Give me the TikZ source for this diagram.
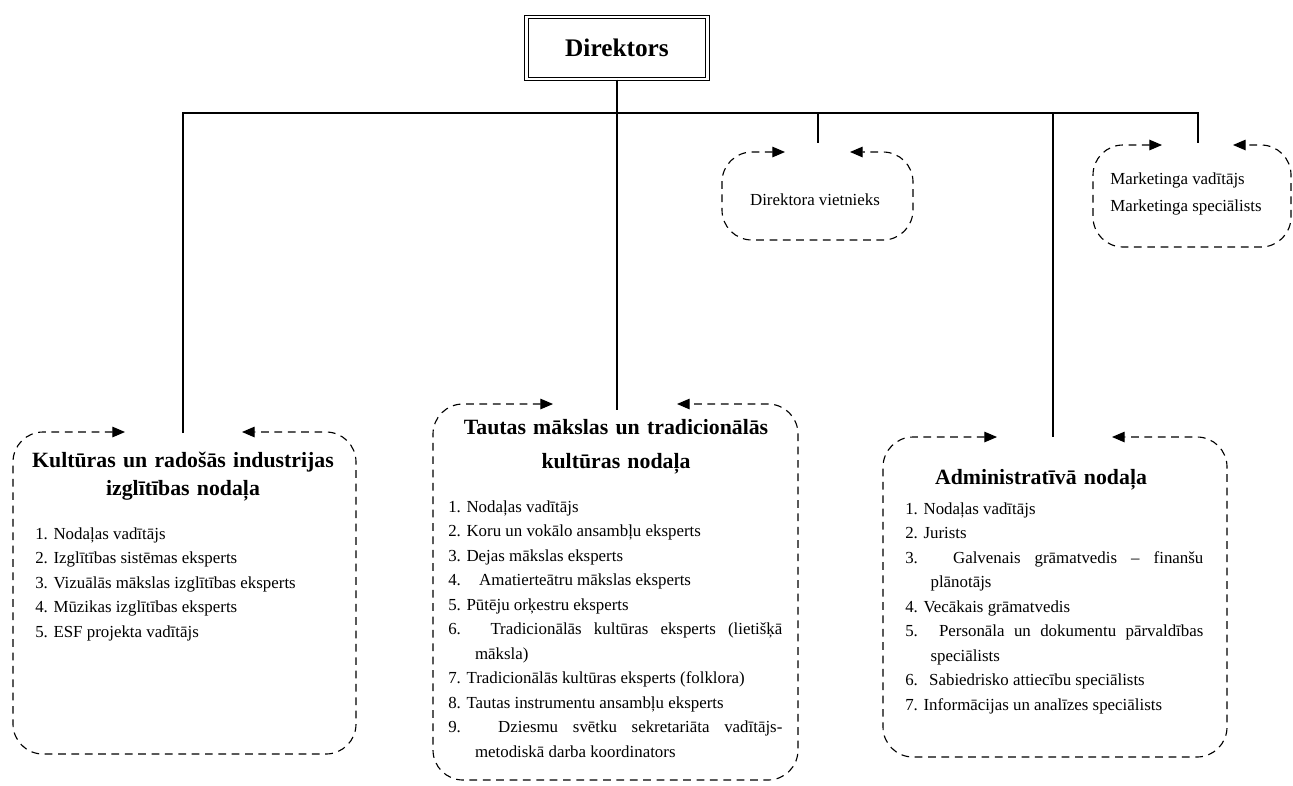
\documentclass[tikz,border=0pt]{standalone}
\usepackage{fontspec}
\setmainfont{Liberation Serif}
\usetikzlibrary{arrows.meta}
\begin{document}
\begin{tikzpicture}[x=0.025cm,y=-0.025cm]
	\tikzstyle{every node}+=[inner sep=0pt]
	\tikzstyle{deptbox}=[black,line width=0.8pt,dash pattern=on 5.5pt off 4pt,rounded corners=0.75cm,{Triangle[length=9pt,width=7.5pt]}-{Triangle[length=9pt,width=7.5pt]}]
	\tikzstyle{tree}=[black,line width=1pt]
	\tikzstyle{head}=[font=\fontsize{15.5}{24.2}\selectfont\bfseries,align=center,anchor=north]
	\tikzstyle{items}=[font=\fontsize{12}{17.4}\selectfont,align=justify,anchor=north west]
	\useasboundingbox (0,0) rectangle (1293,785);
	\node [draw,line width=0.7pt,double,double distance=1.6pt,minimum width=4.525cm,minimum height=1.55cm,font=\fontsize{18}{20}\selectfont\bfseries] (direktors) at (617,48) {Direktors};
	\coordinate (bus) at (617,113);
	\coordinate (kult) at (183,433);
	\coordinate (tauta) at (617,410);
	\coordinate (vietn) at (818,143);
	\coordinate (admin) at (1053,437);
	\coordinate (mark) at (1198,143);
	\draw [tree] (direktors) -- (bus);
	\draw [tree] (kult) |- (bus) -| (mark);
	\draw [tree] (bus -| tauta) -- (tauta);
	\draw [tree] (bus -| vietn) -- (vietn);
	\draw [tree] (bus -| admin) -- (admin);
	\draw [deptbox] (125,432) -- (13,432) -- (13,754) -- (356,754) -- (356,432) -- (242,432);
	\draw [deptbox] (553,404) -- (433,404) -- (433,780) -- (798,780) -- (798,404) -- (677,404);
	\draw [deptbox] (785,152) -- (722,152) -- (722,240) -- (913,240) -- (913,152) -- (850,152);
	\draw [deptbox] (997,437) -- (883,437) -- (883,757) -- (1227,757) -- (1227,437) -- (1112,437);
	\draw [deptbox] (1162,145) -- (1093,145) -- (1093,247) -- (1291,247) -- (1291,145) -- (1233,145);
	\node [head,text width=8.5cm,font=\fontsize{15.5}{19.9}\selectfont\bfseries] (kulthead) at (183,448) {\strut Kultūras un radošās industrijas\\izglītības nodaļa};
	\node [head,text width=8.5cm] (tautahead) at (616,410) {\strut Tautas mākslas un tradicionālās\\kultūras nodaļa};
	\node [head,text width=8cm] (adminhead) at (1041,460) {\strut Administratīvā nodaļa};
	\node [items,text width=7.75cm] (kultlist) at (35,522) {\strut 1. Nodaļas vadītājs\par
		2. Izglītības sistēmas eksperts\par
		3. Vizuālās mākslas izglītības eksperts\par
		4. Mūzikas izglītības eksperts\par
		5. ESF projekta vadītājs\par};
	\node [items,text width=8.35cm] (tautalist) at (448,495) {\strut 1. Nodaļas vadītājs\par
		2. Koru un vokālo ansambļu eksperts\par
		3. Dejas mākslas eksperts\par
		4.\hspace{9pt} Amatierteātru mākslas eksperts\par
		5. Pūtēju orķestru eksperts\par
		\hangindent=19pt\hangafter=1 6. Tradicionālās kultūras eksperts (lietišķā\linebreak māksla)\par
		7. Tradicionālās kultūras eksperts (folklora)\par
		8. Tautas instrumentu ansambļu eksperts\par
		\hangindent=19pt\hangafter=1 9. Dziesmu svētku sekretariāta vadītājs-\linebreak metodiskā darba koordinators\par};
	\node [items,text width=7.45cm] (adminlist) at (905,497) {\strut 1. Nodaļas vadītājs\par
		2. Jurists\par
		\hangindent=18pt\hangafter=1 3. Galvenais grāmatvedis – finanšu\linebreak plānotājs\par
		4. Vecākais grāmatvedis\par
		\hangindent=18pt\hangafter=1 5. Personāla un dokumentu pārvaldības\linebreak speciālists\par
		6.\hspace{4pt} Sabiedrisko attiecību speciālists\par
		7. Informācijas un analīzes speciālists\par};
	\node [font=\fontsize{12}{14}\selectfont] (vietnieks) at (815,200) {Direktora vietnieks};
	\node [items,font=\fontsize{12}{19.2}\selectfont,align=left] (marketings) at (1110,165) {\strut Marketinga vadītājs\\Marketinga speciālists};
\end{tikzpicture}
\end{document}
